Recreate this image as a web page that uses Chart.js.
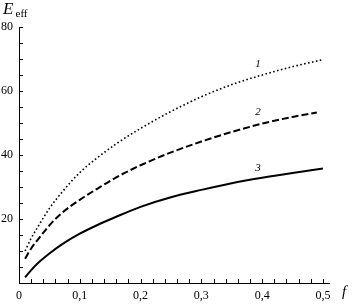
<!DOCTYPE html>
<html>
<head>
<meta charset="utf-8">
<script src="https://cdn.jsdelivr.net/npm/chart.js@4"></script>
<style>
html,body{margin:0;padding:0;background:#fff;}
</style>
</head>
<body>
<canvas id="chart" width="355" height="305"></canvas>
<script>
// f values (x axis)
const fVals  = [0.01, 0.02, 0.03, 0.05, 0.07, 0.1, 0.13, 0.16, 0.2, 0.25, 0.3, 0.35, 0.4, 0.45, 0.5];
// E_eff for the three curves
const curve1 = [10, 14, 17.2, 23.3, 28.2, 34.5, 39.3, 43.5, 48.3, 53.6, 58.2, 62, 65, 67.6, 69.8];
const curve2 = [7.6, 10.8, 13.3, 18, 21.8, 26, 29.6, 33, 36.8, 40.8, 44.2, 47.2, 49.8, 51.9, 53.3];
const curve3 = [1.8, 4, 6, 9.2, 12, 15.4, 18.2, 20.7, 23.8, 26.8, 29.1, 31.2, 32.9, 34.4, 35.8];
const curve2End = 0.49;
const curveNames = ["1", "2", "3"];
// where the curve numbers sit (data coords)
const nameX = [0.393, 0.393, 0.393];
const nameY = [68.4, 53.4, 35.8];

const xMax = 0.51, yMax = 80;
const serif = "'Liberation Serif', 'DejaVu Serif', serif";

function pts(ys){
    return ys.map((y,i)=>({x:fVals[i], y:y}));
}

function isMult(v, step){
    let k = v/step;
    return Math.abs(k - Math.round(k)) < 1e-6;
}

// inner tick marks, titles, curve numbers
const extras = {
    id:'extras',
    afterDraw(chart){
        const ctx = chart.ctx;
        const xs = chart.scales.x, ys = chart.scales.y;
        ctx.save();
        ctx.strokeStyle = '#000';
        ctx.lineWidth = 1;
        ctx.beginPath();
        xs.ticks.forEach(t=>{
            if(t.value > 0){
                let px = Math.round(xs.getPixelForValue(t.value)) + 0.5;
                ctx.moveTo(px, xs.top);
                ctx.lineTo(px, xs.top - 4);
            }
        });
        ys.ticks.forEach(t=>{
            if(t.value > 0){
                let py = Math.round(ys.getPixelForValue(t.value)) + 0.5;
                ctx.moveTo(ys.right, py);
                ctx.lineTo(ys.right + 4, py);
            }
        });
        ctx.stroke();

        ctx.fillStyle = '#000';
        // axis titles
        ctx.textBaseline = 'alphabetic';
        ctx.textAlign = 'left';
        ctx.font = 'italic 17px ' + serif;
        ctx.fillText('E', 3, 14);
        ctx.font = '11px ' + serif;
        ctx.fillText('eff', 15.5, 17);
        ctx.font = 'italic 15px ' + serif;
        ctx.fillText('f', 342, 296);

        // curve numbers
        ctx.font = 'italic 11px ' + serif;
        ctx.textAlign = 'center';
        ctx.textBaseline = 'middle';
        curveNames.forEach((n,i)=>{
            ctx.fillText(n, xs.getPixelForValue(nameX[i]), ys.getPixelForValue(nameY[i]));
        });
        ctx.restore();
    }
};

let d2 = pts(curve2);
d2[d2.length-1].x = curve2End;

new Chart(document.getElementById('chart'), {
    type:'scatter',
    data:{
        datasets:[
            {data:pts(curve1), showLine:true, borderColor:'#000', borderWidth:1.6, borderDash:[1.6,2.4], pointRadius:0, cubicInterpolationMode:'monotone'},
            {data:d2, showLine:true, borderColor:'#000', borderWidth:2, borderDash:[7,3], pointRadius:0, cubicInterpolationMode:'monotone'},
            {data:pts(curve3), showLine:true, borderColor:'#000', borderWidth:2, pointRadius:0, cubicInterpolationMode:'monotone'}
        ]
    },
    options:{
        responsive:false,
        animation:false,
        events:[],
        layout:{padding:{top:27, right:26, left:0, bottom:0}},
        plugins:{legend:{display:false}, tooltip:{enabled:false}},
        scales:{
            x:{
                type:'linear', min:0, max:xMax,
                afterFit(s){ s.height = 22; },
                // ticks every 0.02 up to 0.5
                afterBuildTicks(s){
                    let t = [];
                    for(let i=0;i<=25;i++) t.push({value:+(i*0.02).toFixed(2)});
                    s.ticks = t;
                },
                grid:{display:false, drawTicks:false},
                border:{display:true, color:'#000', width:1},
                ticks:{
                    autoSkip:false, maxRotation:0, padding:6,
                    color:'#000', font:{family:serif, size:12},
                    callback:v=>{
                        if(!isMult(v, 0.1)) return '';
                        return v===0 ? '0' : v.toFixed(1).replace('.', ',');
                    }
                }
            },
            y:{
                min:0, max:yMax,
                afterFit(s){ s.width = 19; },
                grid:{display:false, drawTicks:false},
                border:{display:true, color:'#000', width:1},
                ticks:{
                    stepSize:5, autoSkip:false, padding:6,
                    color:'#000', font:{family:serif, size:12},
                    callback:v=> (v > 0 && v % 20 === 0) ? String(v) : ''
                }
            }
        }
    },
    plugins:[extras]
});
</script>
</body>
</html>
